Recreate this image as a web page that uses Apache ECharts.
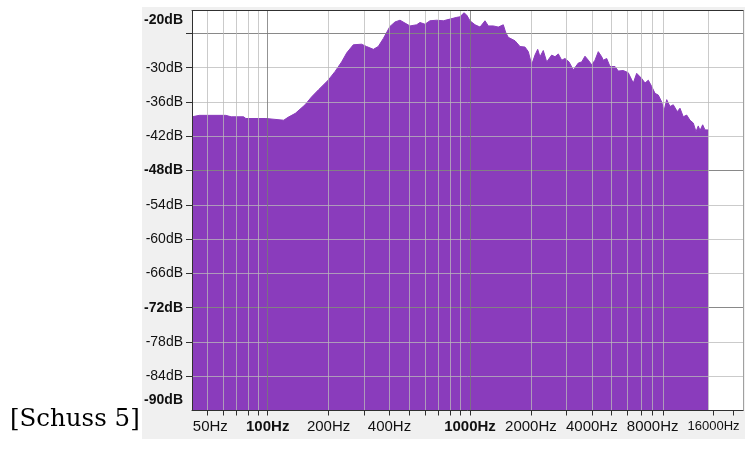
<!DOCTYPE html>
<html>
<head>
<meta charset="utf-8">
<script src="https://cdn.jsdelivr.net/npm/echarts@6/dist/echarts.min.js"></script>
<style>
  html, body { margin: 0; padding: 0; background: #ffffff; }
  #chart { width: 745px; height: 449px; }
</style>
</head>
<body>
<div id="chart"></div>
<script>
// Spectrum level (dB) at frequency (Hz)
const freqHz = [
  42.25, 46, 62, 66, 76, 78, 98, 100, 120, 126, 137, 153, 165, 178, 199, 215, 232, 246,
  265, 291, 308, 333, 352, 373, 402, 426, 451, 477, 505, 545, 566, 599, 634, 684, 738,
  797, 860, 892, 934, 963, 1000, 1059, 1121, 1186, 1232, 1304, 1380, 1461, 1500, 1546,
  1669, 1767, 1870, 1942, 2018, 2095, 2161, 2218, 2303, 2394, 2534, 2631, 2732, 2840,
  2948, 3086, 3240, 3430, 3566, 3702, 3844, 3995, 4148, 4307, 4477, 4559, 4739, 4921,
  5209, 5310, 5409, 5725, 6060, 6178, 6414, 6667, 7058, 7329, 7610, 7911, 8212, 8526,
  8864, 9099, 9383, 9741, 10110, 10590, 10914, 11330, 11780, 12229, 12700, 13100, 13440,
  13710, 14130, 14510, 14790, 15060
];
const levelDb = [
  -38.6, -38.35, -38.35, -38.6, -38.6, -38.9, -38.9, -39.2, -39.2, -38.7, -38.0, -36.5, -35.1, -33.9, -32.2, -30.7, -29.0, -27.4,
  -26.0, -25.9, -26.3, -26.8, -26.3, -24.9, -22.8, -22.0, -21.7, -22.2, -22.7, -22.5, -22.1, -22.4, -21.8, -21.7, -21.8,
  -21.5, -21.2, -21.1, -20.4, -20.8, -21.8, -22.5, -22.9, -21.8, -22.7, -22.7, -22.9, -22.5, -23.8, -24.7,
  -25.3, -26.3, -26.4, -27.2, -29.5, -27.8, -26.8, -28.1, -27.0, -29.0, -27.8, -28.1, -27.6, -28.7,
  -28.4, -29.0, -30.4, -29.2, -29.0, -28.0, -28.7, -29.5, -28.7, -27.2, -28.1, -28.7, -28.4, -29.8,
  -29.8, -29.5, -30.6, -30.5, -30.9, -30.6, -32.7, -31.0, -31.9, -32.7, -32.2, -33.3, -34.5, -34.8,
  -36.0, -37.6, -35.6, -36.8, -36.5, -37.7, -37.1, -38.6, -38.3, -39.2, -39.7, -41.2, -40.2,
  -41.0, -40.0, -40.9, -40.6, -40.9
];

// Frequency axis
const freqRangeHz = [42.25, 22360];
const freqTickHz = [50, 60, 70, 80, 90, 100, 200, 300, 400, 500, 600, 700, 800, 900,
  1000, 2000, 3000, 4000, 5000, 6000, 7000, 8000, 9000, 16000, 20000];
const freqMinorGridHz = [50, 60, 70, 80, 90, 200, 300, 400, 500, 600, 700, 800, 900,
  2000, 3000, 4000, 5000, 6000, 7000, 8000, 9000, 15000];
const freqMajorGridHz = [100, 1000];
const freqLabelHz = [50, 100, 200, 400, 1000, 2000, 4000, 8000, 16000];
const freqBoldHz = [100, 1000];

// Level axis
const dbRange = [-90, -20];
const dbTicks = [-24, -30, -36, -42, -48, -54, -60, -66, -72, -78, -84];
const dbMajorGrid = [-24, -48, -72];
const dbLabels = [-20, -30, -36, -42, -48, -54, -60, -66, -72, -78, -84, -90];
const dbBold = [-20, -48, -72, -90];

const FONT = '"Liberation Sans", Arial, sans-serif';
const PURPLE = '#8a3cbc';
const lg = v => Math.log10(v);

const chart = echarts.init(document.getElementById('chart'), null, { renderer: 'canvas' });

const xBase = {
  type: 'value', min: lg(freqRangeHz[0]), max: lg(freqRangeHz[1]),
  gridIndex: 0, z: 5, scale: true
};
const yBase = { type: 'value', min: dbRange[0], max: dbRange[1], gridIndex: 0, z: 5 };
const minorGrid = { show: true, lineStyle: { color: 'rgba(185,185,185,0.75)', width: 1 } };
const majorGrid = { show: true, lineStyle: { color: 'rgba(120,120,120,0.8)', width: 1 } };

chart.setOption({
  animation: false,
  backgroundColor: '#ffffff',
  graphic: [
    { type: 'rect', z: -10, silent: true,
      shape: { x: 142, y: 7, width: 603, height: 432 }, style: { fill: '#f0f0f0' } },
    { type: 'text', z: 10, silent: true,
      style: { x: 10, y: 420, text: '[Schuss 5]', font: '24.5px "DejaVu Serif", serif',
               fill: '#000', textVerticalAlign: 'middle' } }
  ],
  grid: { left: 192, top: 10.5, width: 551, height: 400, show: true,
          backgroundColor: '#ffffff', borderWidth: 0 },
  xAxis: [
    Object.assign({}, xBase, {
      position: 'bottom',
      axisLine: { show: true, onZero: false, lineStyle: { color: '#303030', width: 1 } },
      axisTick: { show: true, inside: false, length: 5, customValues: freqTickHz.map(lg),
                  lineStyle: { color: '#303030' } },
      splitLine: { show: false },
      axisLabel: {
        show: true, margin: 9, customValues: freqLabelHz.map(lg),
        formatter: v => {
          const hz = Math.round(Math.pow(10, v));
          if (freqBoldHz.includes(hz)) return '{b|' + hz + 'Hz}';
          if (hz === 16000) return '{s|' + hz + 'Hz}';
          if (hz === 50) return '{l|' + hz + 'Hz}';
          return '{n|' + hz + 'Hz}';
        },
        rich: {
          n: { fontFamily: FONT, fontSize: 15, color: '#111' },
          b: { fontFamily: FONT, fontSize: 15, fontWeight: 'bold', color: '#111' },
          s: { fontFamily: FONT, fontSize: 13, color: '#111' },
          l: { fontFamily: FONT, fontSize: 15, color: '#111', padding: [0, 0, 0, 7] }
        }
      }
    }),
    Object.assign({}, xBase, {
      position: 'bottom',
      axisLine: { show: false }, axisLabel: { show: false },
      axisTick: { show: false, customValues: freqMinorGridHz.map(lg) },
      splitLine: minorGrid
    }),
    Object.assign({}, xBase, {
      position: 'top',
      axisLine: { show: true, onZero: false, lineStyle: { color: '#303030', width: 1 } },
      axisLabel: { show: false },
      axisTick: { show: false, customValues: freqMajorGridHz.map(lg) },
      splitLine: majorGrid
    })
  ],
  yAxis: [
    Object.assign({}, yBase, {
      position: 'left',
      axisLine: { show: true, onZero: false, lineStyle: { color: '#303030', width: 1 } },
      axisTick: { show: true, inside: false, length: 6, customValues: dbTicks,
                  lineStyle: { color: '#303030' } },
      splitLine: minorGrid,
      axisLabel: {
        show: true, margin: 9, customValues: dbLabels,
        showMinLabel: true, showMaxLabel: true,
        formatter: v => {
          const t = v + 'dB';
          if (v === dbRange[1]) return '{t|' + t + '}';
          if (v === dbRange[0]) return '{e|' + t + '}';
          if (dbBold.includes(v)) return '{b|' + t + '}';
          return '{n|' + t + '}';
        },
        rich: {
          n: { fontFamily: FONT, fontSize: 14, color: '#111' },
          b: { fontFamily: FONT, fontSize: 14, fontWeight: 'bold', color: '#111' },
          t: { fontFamily: FONT, fontSize: 14, fontWeight: 'bold', color: '#111', padding: [19, 0, 0, 0] },
          e: { fontFamily: FONT, fontSize: 14, fontWeight: 'bold', color: '#111', padding: [0, 0, 21, 0] }
        }
      }
    }),
    Object.assign({}, yBase, {
      position: 'right',
      axisLine: { show: true, onZero: false, lineStyle: { color: '#a0a0a0', width: 1 } },
      axisLabel: { show: false },
      axisTick: { show: false, customValues: dbMajorGrid },
      splitLine: majorGrid
    })
  ],
  series: [{
    type: 'line',
    xAxisIndex: 0, yAxisIndex: 0,
    data: freqHz.map((f, i) => [lg(f), levelDb[i]]),
    showSymbol: false, symbol: 'none', smooth: false, clip: true, z: 2,
    lineStyle: { color: PURPLE, width: 1 },
    areaStyle: { color: PURPLE, opacity: 1, origin: 'start' }
  }]
});
</script>
</body>
</html>
